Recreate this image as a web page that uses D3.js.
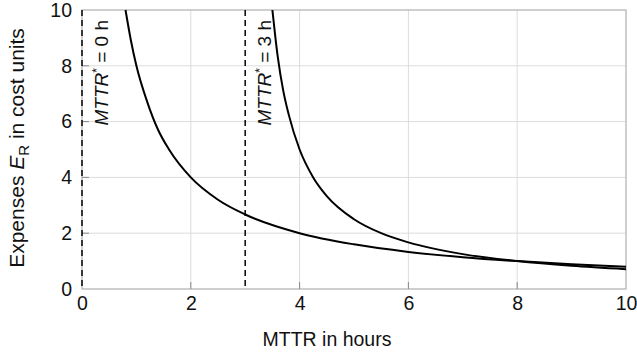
<!DOCTYPE html>
<html lang="en">
<head>
<meta charset="UTF-8">
<title>Expenses vs MTTR</title>
<script src="https://d3js.org/d3.v7.min.js"></script>
<style>
    body { margin: 0; background: #fff; }
    svg * { font-family: 'Liberation Sans', Arial, Helvetica, sans-serif; }
</style>
</head>
<body>
<svg id="chart" width="637" height="358"></svg>
<script>
    // values
    const mttrA = [0.8, 0.9, 1.0, 1.2, 1.4, 1.6, 2.0, 2.5, 3.0, 4.0, 5.0, 6.0, 7.0, 8.0, 9.0, 10.0];
    const costA = [10, 8.9, 8.0, 6.7, 5.7, 5.0, 4.0, 3.2, 2.67, 2.0, 1.6, 1.33, 1.14, 1.0, 0.89, 0.8];
    const mttrB = [3.5, 3.55, 3.6, 3.7, 3.8, 4.0, 4.25, 4.5, 5.0, 5.5, 6.0, 7.0, 8.0, 9.0, 10.0];
    const costB = [10, 9.1, 8.3, 7.1, 6.25, 5.0, 4.0, 3.33, 2.5, 2.0, 1.67, 1.25, 1.0, 0.83, 0.71];
    const markers = [0, 3];
    const markerLabels = ['0 h', '3 h'];
    const xTicks = [0, 2, 4, 6, 8, 10];
    const yTicks = [0, 2, 4, 6, 8, 10];

    const svg = d3.select("#chart");
    const pLeft = 82, pRight = 626, pTop = 10, pBottom = 289;
    const fs = 19.5;

    const x = d3.scaleLinear().domain([0, 10]).range([pLeft, pRight]);
    const y = d3.scaleLinear().domain([0, 10]).range([pBottom, pTop]);

    // grid
    svg.append("g")
        .selectAll("line")
        .data(xTicks.slice(1, -1))
        .join("line")
        .attr("x1", d => x(d)).attr("x2", d => x(d))
        .attr("y1", pTop).attr("y2", pBottom)
        .attr("stroke", "#dcdcdc").attr("stroke-width", 1);
    svg.append("g")
        .selectAll("line")
        .data(yTicks.slice(1, -1))
        .join("line")
        .attr("x1", pLeft).attr("x2", pRight)
        .attr("y1", d => y(d)).attr("y2", d => y(d))
        .attr("stroke", "#dcdcdc").attr("stroke-width", 1);

    // frame
    svg.append("rect")
        .attr("x", pLeft).attr("y", pTop)
        .attr("width", pRight - pLeft).attr("height", pBottom - pTop)
        .attr("fill", "none").attr("stroke", "#b0b0b0").attr("stroke-width", 1.2);

    // axes
    const xAxis = svg.append("g")
        .attr("transform", `translate(0,${pBottom})`)
        .call(d3.axisBottom(x).tickValues(xTicks).tickSize(0).tickPadding(7));
    xAxis.select(".domain").remove();
    xAxis.selectAll("text").attr("font-size", fs).attr("fill", "#111");

    const yAxis = svg.append("g")
        .attr("transform", `translate(${pLeft},0)`)
        .call(d3.axisLeft(y).tickValues(yTicks).tickSize(0).tickPadding(10));
    yAxis.select(".domain").remove();
    yAxis.selectAll("text").attr("font-size", fs).attr("fill", "#111");

    // small inward ticks
    svg.append("g").selectAll("line")
        .data(xTicks.slice(1, -1))
        .join("line")
        .attr("x1", d => x(d)).attr("x2", d => x(d))
        .attr("y1", pBottom).attr("y2", pBottom - 7)
        .attr("stroke", "#888");
    svg.append("g").selectAll("line")
        .data(yTicks.slice(1, -1))
        .join("line")
        .attr("x1", pLeft).attr("x2", pLeft + 7)
        .attr("y1", d => y(d)).attr("y2", d => y(d))
        .attr("stroke", "#888");

    // dashed markers
    svg.append("g").selectAll("line")
        .data(markers)
        .join("line")
        .attr("x1", d => x(d)).attr("x2", d => x(d))
        .attr("y1", pTop).attr("y2", pBottom)
        .attr("stroke", "#111").attr("stroke-width", 1.6)
        .attr("stroke-dasharray", "6,4");

    markers.forEach((m, i) => {
        const t = svg.append("text")
            .attr("transform", `translate(${x(m) + 26},${pTop + 10}) rotate(-90)`)
            .attr("text-anchor", "end")
            .attr("font-size", 19)
            .attr("fill", "#111");
        t.append("tspan").attr("font-style", "italic").text("MTTR");
        t.append("tspan").attr("font-size", 12).attr("dy", -7).text("*");
        t.append("tspan").attr("dy", 7).text(" = " + markerLabels[i]);
    });

    // curves
    const line = d3.line()
        .x(d => x(d[0])).y(d => y(d[1]))
        .curve(d3.curveMonotoneX);

    [[mttrA, costA], [mttrB, costB]].forEach(([xs, ys]) => {
        svg.append("path")
            .datum(xs.map((v, i) => [v, ys[i]]))
            .attr("d", line)
            .attr("fill", "none")
            .attr("stroke", "#000")
            .attr("stroke-width", 2);
    });

    // axis titles
    svg.append("text")
        .attr("x", (pLeft + pRight) / 2 - 27).attr("y", 346)
        .attr("text-anchor", "middle")
        .attr("font-size", fs).attr("fill", "#111")
        .text("MTTR in hours");

    const yt = svg.append("text")
        .attr("transform", `translate(24,148) rotate(-90)`)
        .attr("text-anchor", "middle")
        .attr("font-size", 21).attr("fill", "#111");
    yt.append("tspan").text("Expenses ");
    yt.append("tspan").attr("font-style", "italic").text("E");
    yt.append("tspan").attr("font-size", 15).attr("dy", 5).text("R");
    yt.append("tspan").attr("dy", -5).text(" in cost units");
</script>
</body>
</html>
